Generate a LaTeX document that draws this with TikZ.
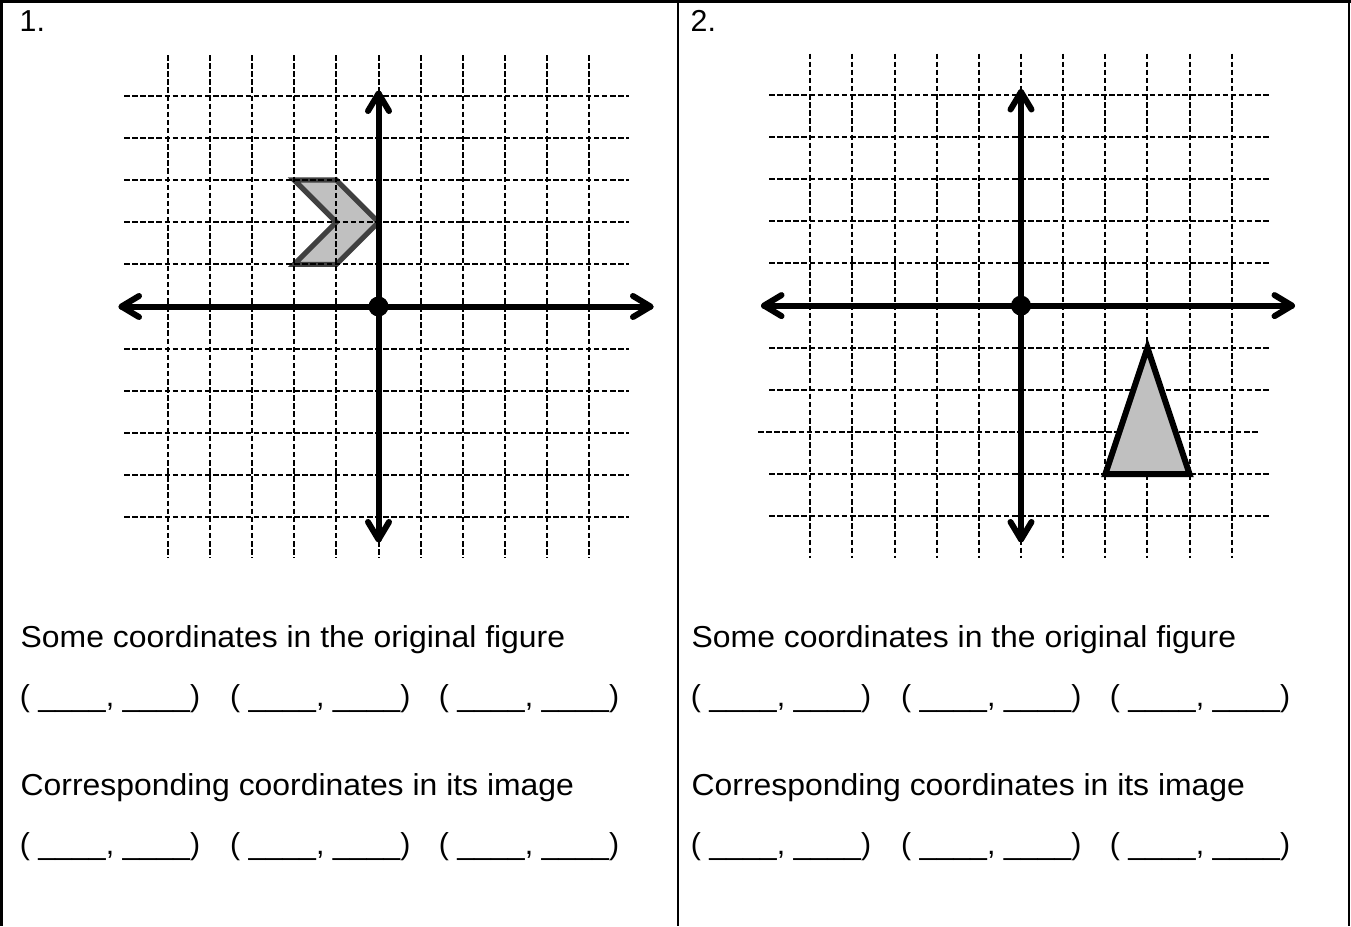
\documentclass[tikz,border=0pt]{standalone}
\usepackage{fontspec}
\setmainfont{Liberation Sans}
\newfontfamily\widefont{Liberation Sans}[FakeStretch=1.053]
\definecolor{shapegray}{HTML}{C0C0C0}
\definecolor{darkedge}{HTML}{404040}
\begin{document}
\begin{tikzpicture}[x=1pt,y=-1pt,
  gridline/.style={line width=2pt,dash pattern=on 5.5pt off 2.6pt},
  axisline/.style={line width=6pt,line cap=round},
  chev/.style={line width=6pt,line cap=round,line join=round},
  originpt/.style={circle,fill=black,inner sep=0pt,minimum size=20pt},
  frameline/.style={line width=2.8pt},
  sent/.style={font=\widefont\fontsize{30.3}{36}\selectfont,inner sep=0pt,anchor=base west},
  blanks/.style={font=\fontsize{30.3}{36}\selectfont,inner sep=0pt,anchor=base west},
  numlabel/.style={font=\fontsize{30.3}{36}\selectfont,inner sep=0pt,anchor=base west},
  chevron/.style={fill=shapegray,draw=darkedge,line width=5.2pt,line join=miter},
  tri/.style={fill=shapegray,draw=black,line width=6pt,line join=miter}
]
\useasboundingbox (0,0) rectangle (1351,926);
\fill[white] (0,0) rectangle (1351,926);

% frame
\coordinate (fTL) at (0,1.4);
\coordinate (fTR) at (1351,1.4);
\coordinate (fL1) at (1.5,0);
\coordinate (fL2) at (1.5,926);
\coordinate (fM1) at (678,0);
\coordinate (fM2) at (678,926);
\coordinate (fR1) at (1349,0);
\coordinate (fR2) at (1349,926);
\draw[frameline] (fTL) -- (fTR);
\draw[frameline] (fL1) -- (fL2);
\draw[frameline] (fM1) -- (fM2);
\draw[frameline] (fR1) -- (fR2);

% ---------- panel 1 ----------
\def\ua{42.15}
\begin{scope}[shift={(378.5,306.5)}]
  \draw[chevron] (-2*\ua,-3*\ua) -- (-1*\ua,-3*\ua) -- (0,-2*\ua) -- (-1*\ua,-1*\ua)
     -- (-2*\ua,-1*\ua) -- (-1*\ua,-2*\ua) -- cycle;
\end{scope}
\foreach \k in {-5,...,5} {
  \draw[gridline] ({378.5+\k*42.15},55) -- ({378.5+\k*42.15},558);
  \draw[gridline] (124,{306.5+\k*42.15}) -- (629,{306.5+\k*42.15});
}
\coordinate (xa1) at (121.5,306.5);
\coordinate (xb1) at (650.5,306.5);
\coordinate (ya1) at (378.5,93.5);
\coordinate (yb1) at (378.5,539.5);
\draw[axisline] (xa1) -- (xb1);
\draw[axisline] (ya1) -- (yb1);
\draw[chev] (xb1) ++(-17.5,-10.5) -- (xb1) -- ++(-17.5,10.5);
\draw[chev] (xa1) ++(17.5,-10.5) -- (xa1) -- ++(17.5,10.5);
\draw[chev] (ya1) ++(-10.5,17.5) -- (ya1) -- ++(10.5,17.5);
\draw[chev] (yb1) ++(-10.5,-17.5) -- (yb1) -- ++(10.5,-17.5);
\node[originpt] (o1) at (378.5,306.5) {};

% ---------- panel 2 ----------
\foreach \k in {-5,...,5} {
  \draw[gridline] ({1021+\k*42.15},53.5) -- ({1021+\k*42.15},558);
}
\foreach \k in {-5,...,2,4,5} {
  \draw[gridline] (769,{305.6+\k*42.15}) -- (1269,{305.6+\k*42.15});
}
\draw[gridline] (758,{305.6+3*42.15}) -- (1258,{305.6+3*42.15});
\begin{scope}[shift={(1021,305.6)}]
  \draw[tri] (3*\ua,1*\ua) -- (2*\ua,4*\ua) -- (4*\ua,4*\ua) -- cycle;
\end{scope}
\coordinate (xa2) at (764,305.6);
\coordinate (xb2) at (1292,305.6);
\coordinate (ya2) at (1021,92);
\coordinate (yb2) at (1021,539.5);
\draw[axisline] (xa2) -- (xb2);
\draw[axisline] (ya2) -- (yb2);
\draw[chev] (xb2) ++(-17.5,-10.5) -- (xb2) -- ++(-17.5,10.5);
\draw[chev] (xa2) ++(17.5,-10.5) -- (xa2) -- ++(17.5,10.5);
\draw[chev] (ya2) ++(-10.5,17.5) -- (ya2) -- ++(10.5,17.5);
\draw[chev] (yb2) ++(-10.5,-17.5) -- (yb2) -- ++(10.5,-17.5);
\node[originpt] (o2) at (1021,305.6) {};

% ---------- texts ----------
\node[numlabel] (n1) at (19.5,31.7) {1.};
\node[numlabel] (n2) at (690.5,31.7) {2.};

\node[sent] (s1a) at (20.5,647) {Some coordinates in the original figure};
\node[sent] (s1b) at (20.5,795) {Corresponding coordinates in its image};
\node[sent] (s2a) at (691.5,647) {Some coordinates in the original figure};
\node[sent] (s2b) at (691.5,795) {Corresponding coordinates in its image};

\foreach \dx/\nm in {0/a,671/b} {
  \foreach \gx/\gi in {19.7/1,230/2,438.7/3} {
    \node[blanks] (b\nm\gi u) at ({\gx+\dx},706) {( \_\_\_\_, \_\_\_\_)};
    \node[blanks] (b\nm\gi l) at ({\gx+\dx},854) {( \_\_\_\_, \_\_\_\_)};
  }
}
\end{tikzpicture}
\end{document}
